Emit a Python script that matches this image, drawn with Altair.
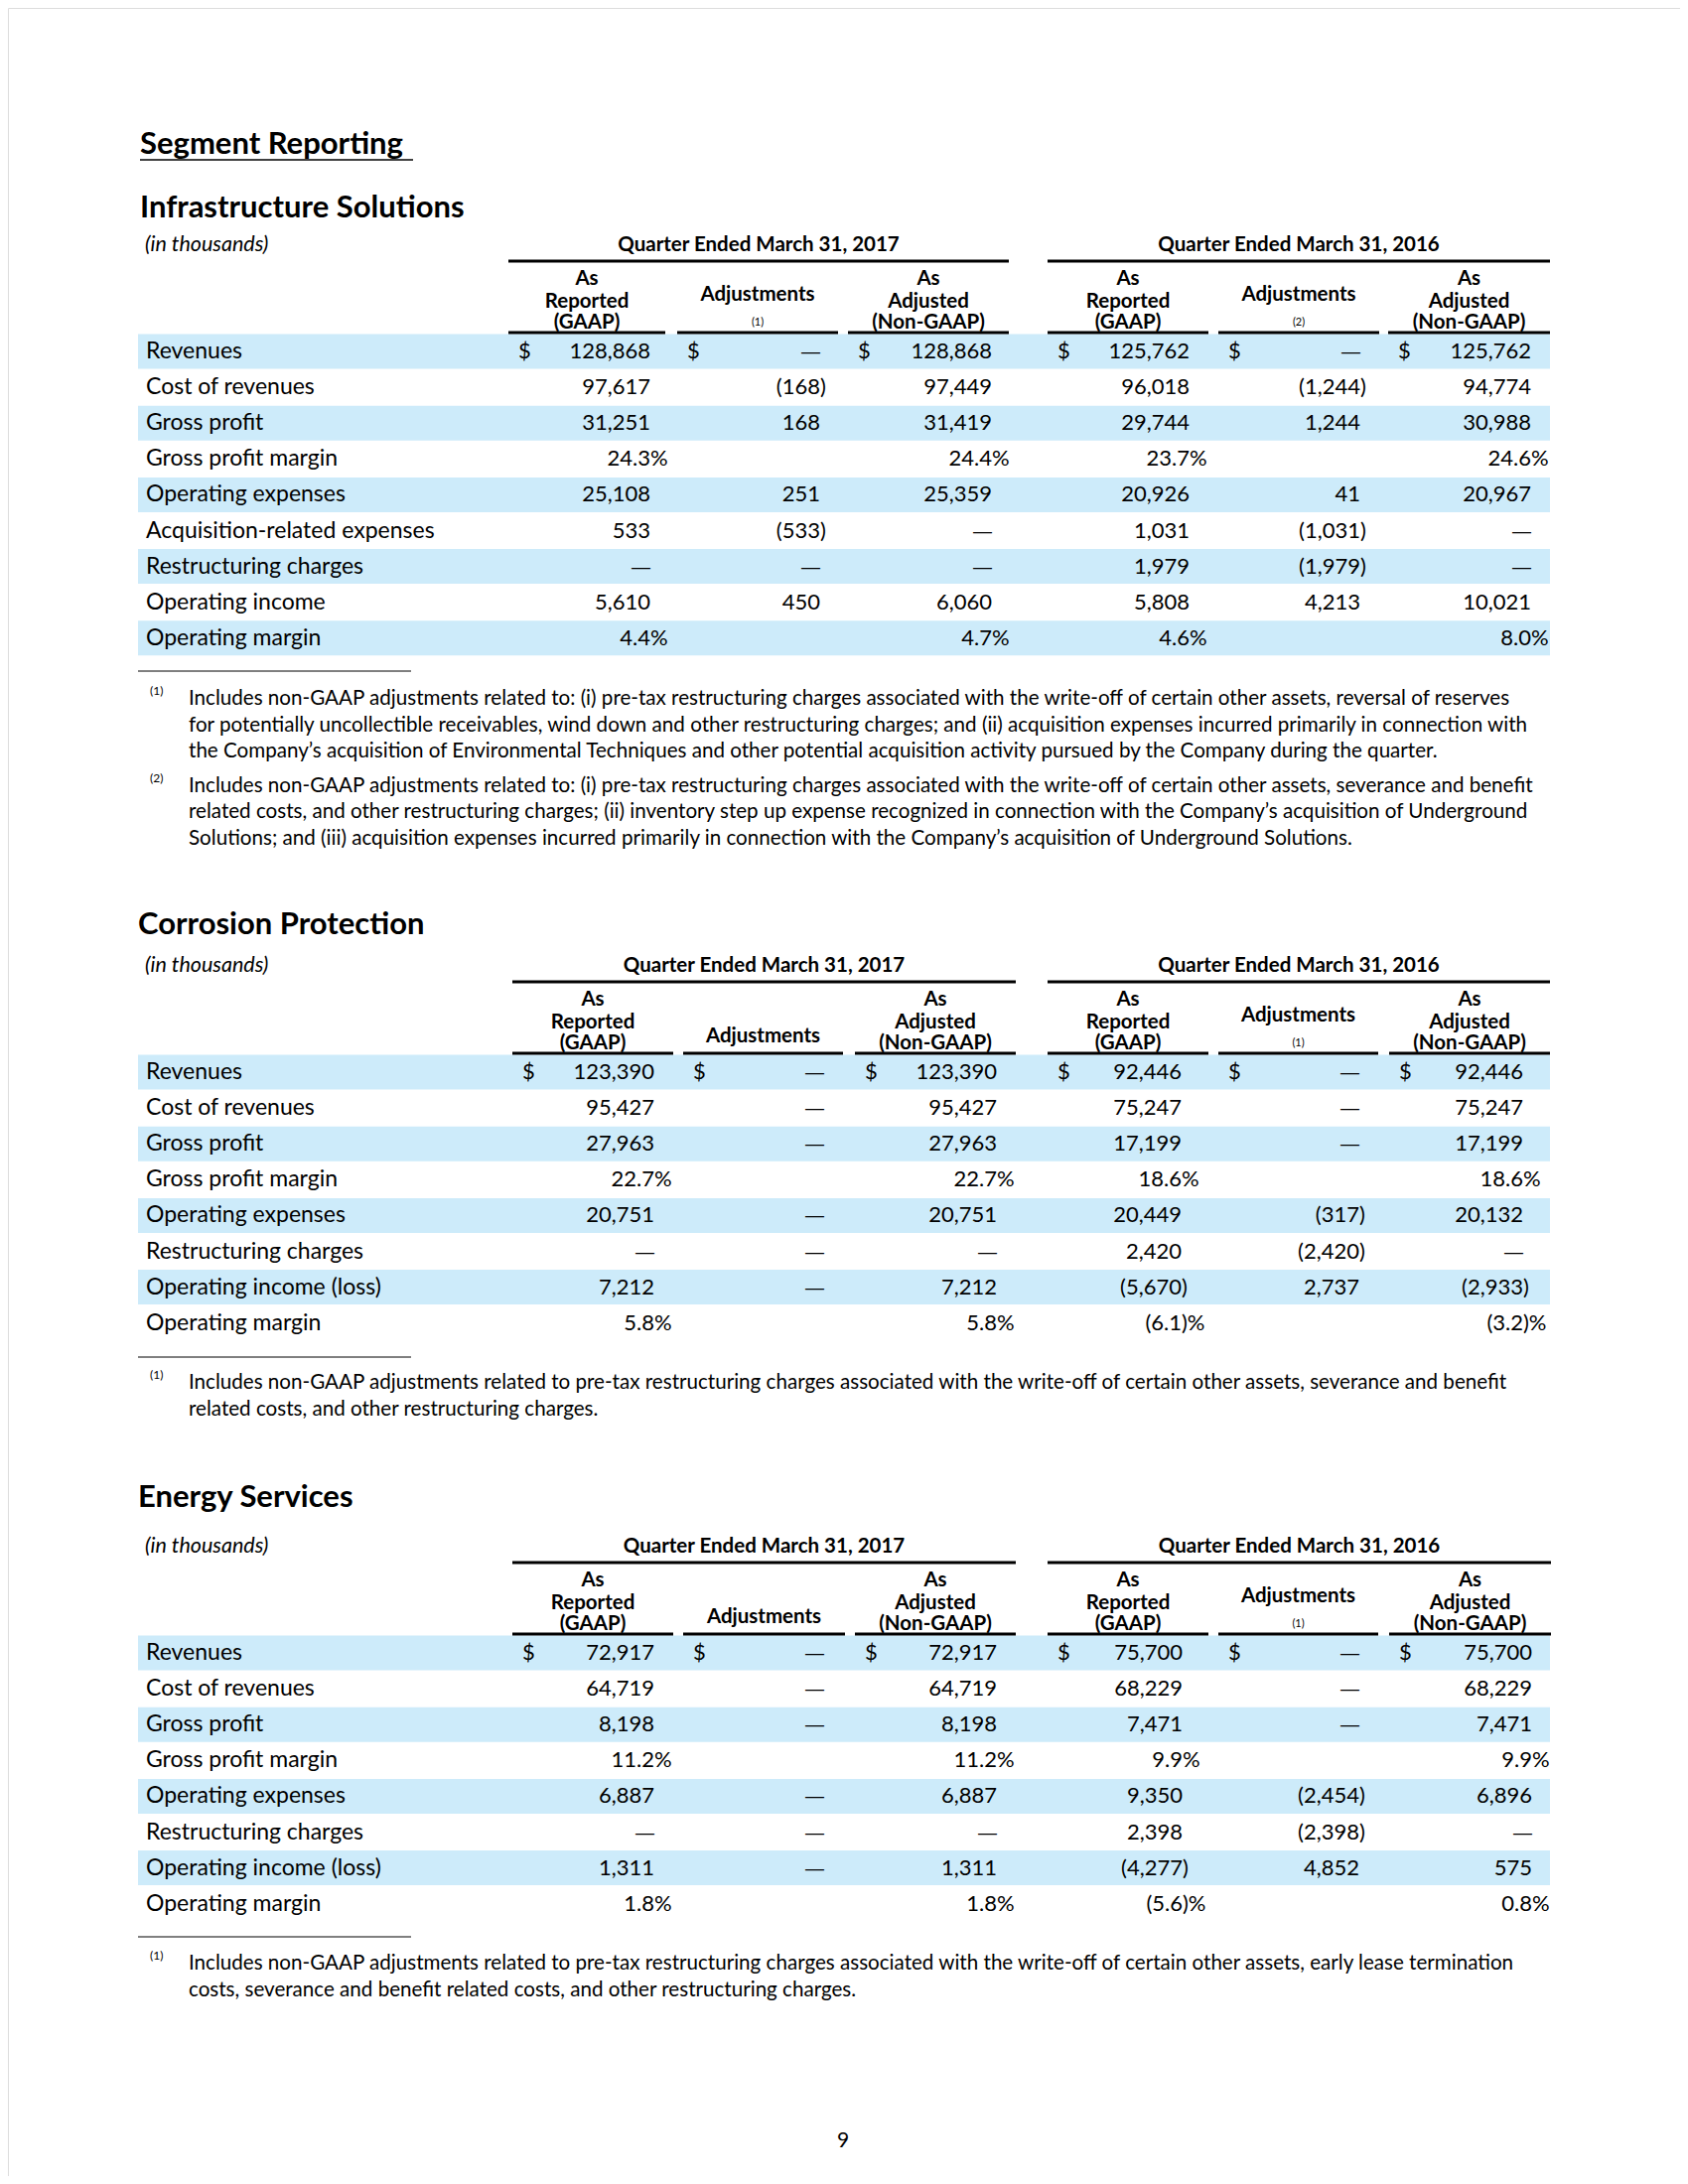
import altair as alt
import pandas as pd

FONT = "Lato"

# ---------------- data ----------------
infra_labels = ["Revenues", "Cost of revenues", "Gross profit", "Gross profit margin",
                "Operating expenses", "Acquisition-related expenses", "Restructuring charges",
                "Operating income", "Operating margin"]
infra_c1 = ["128,868", "97,617", "31,251", "24.3%", "25,108", "533", "—", "5,610", "4.4%"]
infra_c2 = ["—", "(168)", "168", "", "251", "(533)", "—", "450", ""]
infra_c3 = ["128,868", "97,449", "31,419", "24.4%", "25,359", "—", "—", "6,060", "4.7%"]
infra_c4 = ["125,762", "96,018", "29,744", "23.7%", "20,926", "1,031", "1,979", "5,808", "4.6%"]
infra_c5 = ["—", "(1,244)", "1,244", "", "41", "(1,031)", "(1,979)", "4,213", ""]
infra_c6 = ["125,762", "94,774", "30,988", "24.6%", "20,967", "—", "—", "10,021", "8.0%"]

corr_labels = ["Revenues", "Cost of revenues", "Gross profit", "Gross profit margin",
               "Operating expenses", "Restructuring charges", "Operating income (loss)",
               "Operating margin"]
corr_c1 = ["123,390", "95,427", "27,963", "22.7%", "20,751", "—", "7,212", "5.8%"]
corr_c2 = ["—", "—", "—", "", "—", "—", "—", ""]
corr_c3 = ["123,390", "95,427", "27,963", "22.7%", "20,751", "—", "7,212", "5.8%"]
corr_c4 = ["92,446", "75,247", "17,199", "18.6 %", "20,449", "2,420", "(5,670)", "(6.1)%"]
corr_c5 = ["—", "—", "—", "", "(317)", "(2,420)", "2,737", ""]
corr_c6 = ["92,446", "75,247", "17,199", "18.6 %", "20,132", "—", "(2,933)", "(3.2)%"]

energy_labels = corr_labels
energy_c1 = ["72,917", "64,719", "8,198", "11.2%", "6,887", "—", "1,311", "1.8%"]
energy_c2 = ["—", "—", "—", "", "—", "—", "—", ""]
energy_c3 = ["72,917", "64,719", "8,198", "11.2%", "6,887", "—", "1,311", "1.8%"]
energy_c4 = ["75,700", "68,229", "7,471", "9.9 %", "9,350", "2,398", "(4,277)", "(5.6)%"]
energy_c5 = ["—", "—", "—", "", "(2,454)", "(2,398)", "4,852", ""]
energy_c6 = ["75,700", "68,229", "7,471", "9.9%", "6,896", "—", "575", "0.8%"]

quarters = ["Quarter Ended March 31, 2017", "Quarter Ended March 31, 2016"]
col_heads = [["As", "Reported", "(GAAP)"], ["Adjustments"], ["As", "Adjusted", "(Non-GAAP)"]] * 2

infra_notes = [
    ("(1)", ["Includes non-GAAP adjustments related to: (i) pre-tax restructuring charges associated with the write-off of certain other assets, reversal of reserves",
             "for potentially uncollectible receivables, wind down and other restructuring charges; and (ii) acquisition expenses incurred primarily in connection with",
             "the Company\u2019s acquisition of Environmental Techniques and other potential acquisition activity pursued by the Company during the quarter."]),
    ("(2)", ["Includes non-GAAP adjustments related to: (i) pre-tax restructuring charges associated with the write-off of certain other assets, severance and benefit",
             "related costs, and other restructuring charges; (ii) inventory step up expense recognized in connection with the Company\u2019s acquisition of Underground",
             "Solutions; and (iii) acquisition expenses incurred primarily in connection with the Company\u2019s acquisition of Underground Solutions."]),
]
corr_notes = [
    ("(1)", ["Includes non-GAAP adjustments related to pre-tax restructuring charges associated with the write-off of certain other assets, severance and benefit",
             "related costs, and other restructuring charges."]),
]
energy_notes = [
    ("(1)", ["Includes non-GAAP adjustments related to pre-tax restructuring charges associated with the write-off of certain other assets, early lease termination",
             "costs, severance and benefit related costs, and other restructuring charges."]),
]

tables = [
    dict(title="Infrastructure Solutions", title_x=141, title_y=210, rule_y=263,
         labels=infra_labels, cols=[infra_c1, infra_c2, infra_c3, infra_c4, infra_c5, infra_c6],
         starts=[512, 682, 854, 1055, 1227, 1398], ends=[670, 844, 1016, 1217, 1389, 1561],
         digits=[655, 826, 999, 1198, 1370, 1542], adj_notes=["(1)", "(2)"],
         fn_rule=676, fn_y=704, notes=infra_notes),
    dict(title="Corrosion Protection", title_x=139, title_y=932, rule_y=989,
         labels=corr_labels, cols=[corr_c1, corr_c2, corr_c3, corr_c4, corr_c5, corr_c6],
         starts=[516, 688, 861, 1055, 1227, 1399], ends=[678, 849, 1023, 1217, 1388, 1561],
         digits=[659, 830, 1004, 1190, 1369, 1534], adj_notes=["", "(1)"],
         fn_rule=1367, fn_y=1393, notes=corr_notes),
    dict(title="Energy Services", title_x=139, title_y=1509, rule_y=1574,
         labels=energy_labels, cols=[energy_c1, energy_c2, energy_c3, energy_c4, energy_c5, energy_c6],
         starts=[516, 688, 861, 1055, 1227, 1399], ends=[678, 851, 1023, 1217, 1388, 1562],
         digits=[659, 830, 1004, 1191, 1369, 1543], adj_notes=["", "(1)"],
         fn_rule=1951, fn_y=1978, notes=energy_notes),
]

ROW_PITCH = 36.1
FN_PITCH = 26.5

texts, rules, bands = [], [], []

def T(x, y, text, kind):
    texts.append(dict(x=x, y=y, text=text, kind=kind))

def R(x, x2, y, w):
    rules.append(dict(x=x, x2=x2, y=y, w=w))

T(141, 146, "Segment Reporting", "title")
R(141, 416, 161, 1.5)

for tb in tables:
    ry = tb["rule_y"]
    T(tb["title_x"], tb["title_y"], tb["title"], "title")
    T(146, ry - 16, "(in thousands)", "unit")
    for q in range(2):
        s, e = tb["starts"][q * 3], tb["ends"][q * 3 + 2]
        T((s + e) / 2, ry - 16, quarters[q], "head")
        R(s, e, ry, 3)
    for c in range(6):
        s, e = tb["starts"][c], tb["ends"][c]
        cx = (s + e) / 2
        R(s, e, ry + 72, 3)
        heads = col_heads[c]
        if len(heads) == 3:
            for k, dy in enumerate([18, 41, 62]):
                T(cx, ry + dy, heads[k], "head")
        else:
            note = tb["adj_notes"][c // 3]
            if note:
                T(cx, ry + 34, heads[0], "head")
                T(cx, ry + 62, note, "headnote")
            else:
                T(cx, ry + 55, heads[0], "head")
    for i, lab in enumerate(tb["labels"]):
        y = ry + 91 + i * ROW_PITCH
        if i % 2 == 0:
            bands.append(dict(x=139, x2=1561, y=y - 17.5, y2=y + 17.5))
        T(147, y, lab, "label")
        for c in range(6):
            v = tb["cols"][c][i]
            if i == 0:
                T(tb["starts"][c] + 10, y, "$", "cell_l")
            if not v:
                continue
            d = tb["digits"][c]
            if v == "—":
                T(d, y, v, "dash")
                continue
            if v.endswith(" %"):
                main, suf = v[:-2], "\u00a0%"
            elif v.endswith(")%"):
                main, suf = v[:-2], ")%"
            elif v.endswith("%") or v.endswith(")"):
                main, suf = v[:-1], v[-1]
            else:
                main, suf = v, ""
            T(d, y, main, "cell_r")
            if suf:
                T(d, y, suf, "cell_l")
    R(139, 414, tb["fn_rule"], 1)
    y = tb["fn_y"]
    for mark, lines in tb["notes"]:
        T(151, y - 8, mark, "fnmark")
        for ln in lines:
            T(190, y, ln, "fn")
            y += FN_PITCH
        y += 8

T(849, 2157, "9", "page")

tdf = pd.DataFrame(texts)
rdf = pd.DataFrame(rules)
bdf = pd.DataFrame(bands)

X = alt.Scale(domain=[8, 1692], zero=False, nice=False)
Y = alt.Scale(domain=[8, 2192], zero=False, nice=False, reverse=True)

band_layer = alt.Chart(bdf).mark_rect(color="#CDEBFA").encode(
    x=alt.X("x:Q", scale=X, axis=None), x2="x2:Q",
    y=alt.Y("y:Q", scale=Y, axis=None), y2="y2:Q")

rule_layer = alt.Chart(rdf).mark_rule(color="#000000").encode(
    x=alt.X("x:Q", scale=X, axis=None), x2="x2:Q",
    y=alt.Y("y:Q", scale=Y, axis=None),
    strokeWidth=alt.StrokeWidth("w:Q", scale=None, legend=None))

styles = {
    "title": dict(fontSize=31, fontWeight="bold", align="left"),
    "unit": dict(fontSize=21.5, fontStyle="italic", align="left"),
    "head": dict(fontSize=20.5, fontWeight="bold", align="center"),
    "headnote": dict(fontSize=11, align="center"),
    "label": dict(fontSize=23, align="left"),
    "cell_r": dict(fontSize=22, align="right"),
    "cell_l": dict(fontSize=22, align="left"),
    "dash": dict(fontSize=19, align="right", font="Liberation Sans"),
    "fnmark": dict(fontSize=12, align="left"),
    "fn": dict(fontSize=20.6, align="left"),
    "page": dict(fontSize=21, align="center"),
}

layers = [band_layer, rule_layer]
for kind, st in styles.items():
    st = dict(st)
    fnt = st.pop("font", FONT)
    layers.append(
        alt.Chart(tdf).transform_filter(alt.datum.kind == kind)
        .mark_text(font=fnt, baseline="middle", color="#000000", **st)
        .encode(x=alt.X("x:Q", scale=X, axis=None),
                y=alt.Y("y:Q", scale=Y, axis=None),
                text="text:N")
    )

chart = alt.layer(*layers).properties(
    width=1684, height=2184, padding=0, autosize=alt.AutoSizeParams(type="none")
).configure_view(stroke=None).configure(background="#ffffff")

chart.save("out.html", embed_options={"renderer": "svg", "actions": False})
